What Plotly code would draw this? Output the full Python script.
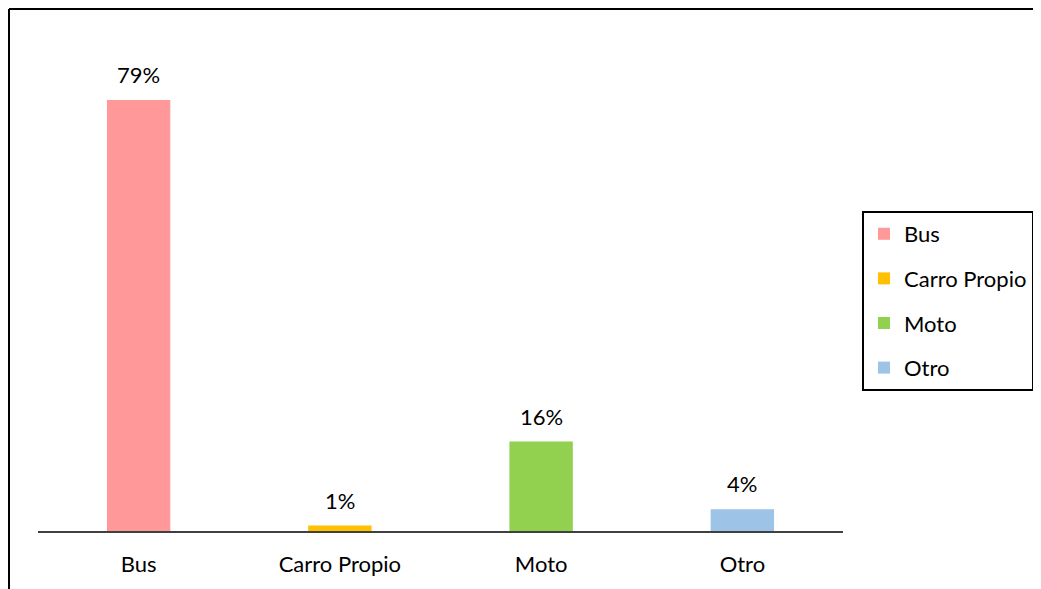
import plotly.graph_objects as go

# --- 資料 ---
categories = ["Bus", "Carro Propio", "Moto", "Otro"]
values = [79, 1, 16.4, 4]
colors = ["#FF9999", "#FFC000", "#92D050", "#9DC3E6"]

FONT = "Lato, 'Open Sans', Arial, sans-serif"

# 版面 (頁面本身有 8px 的 body margin)
W, H = 1033, 581
L, R, T, B = 30, 198, 32, 58
PW, PH = W - L - R, H - T - B

fig = go.Figure()
for cat, val, col in zip(categories, values, colors):
    fig.add_trace(go.Bar(
        x=[cat], y=[val], name=cat, legendgroup=cat,
        marker=dict(color=col, line=dict(width=0)),
        width=0.315,
    ))
    # 數值標籤 (放在柱子上方)
    fig.add_annotation(
        x=cat, y=val, text=f"{val:.0f}%", showarrow=False,
        yanchor="bottom", yshift=10,
        font=dict(size=22, color="#000000"),
    )

fig.update_layout(
    width=W, height=H,
    barmode="overlay",
    paper_bgcolor="white", plot_bgcolor="white",
    font=dict(family=FONT, size=22, color="#000000"),
    margin=dict(l=L, r=R, t=T, b=B, pad=0, autoexpand=False),
    showlegend=True,
    legend=dict(
        xref="container", yref="container",
        x=(862 - 8) / W, xanchor="left",
        y=1 - 203 / H, yanchor="top",
        bordercolor="#000000", borderwidth=2,
        font=dict(size=22), tracegroupgap=13,
        itemclick=False,
    ),
    xaxis=dict(
        categoryorder="array", categoryarray=categories,
        showline=True, linecolor="#404040", linewidth=1.5,
        ticks="", showgrid=False, ticklabelstandoff=13,
        tickfont=dict(size=22),
    ),
    yaxis=dict(visible=False, range=[0, 90]),
)

# 外框 (只看得到上緣和左緣)
fx0 = (1 - L) / PW
fy0 = (H - B - 1) / PH
fig.add_shape(type="line", xref="paper", yref="paper",
              x0=fx0, y0=fy0, x1=1 + R / PW + 0.01, y1=fy0,
              line=dict(color="#000000", width=2))
fig.add_shape(type="line", xref="paper", yref="paper",
              x0=fx0, y0=fy0, x1=fx0, y1=-B / PH - 0.01,
              line=dict(color="#000000", width=2))

fig.write_html("out.html")
